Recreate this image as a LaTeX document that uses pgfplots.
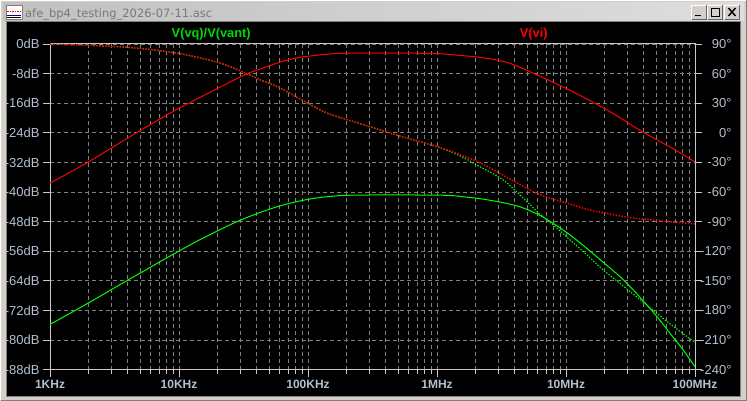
\documentclass[border=0pt]{standalone}
\usepackage{pgfplots}
\pgfplotsset{compat=1.18}
\usepackage{fontspec}
\setmainfont{Liberation Sans}
\newfontfamily\titlefont{DejaVu Sans}
\definecolor{winbg}{RGB}{212,208,200}
\definecolor{lbl}{RGB}{178,192,208}
\definecolor{gridc}{RGB}{128,128,128}
\definecolor{axc}{RGB}{200,200,200}
\definecolor{ltred}{RGB}{255,0,0}
\definecolor{ltgreen}{RGB}{0,255,0}
\definecolor{titlec}{RGB}{120,120,120}
\pgfplotsset{
  ltbase/.style={
    at={(50pt,31.4pt)}, anchor=south west, scale only axis,
    width=645pt, height=325.6pt,
    xmin=1e3, xmax=1e8,
    tick align=outside, major tick length=7pt, minor tick length=4pt,
    axis line style={draw=axc, line width=1pt},
    tick style={draw=axc, line width=0.8pt},
  },
  magline/.style={line width=1pt, smooth},
  phline/.style={line width=1.5pt, smooth, dash pattern=on 1.4pt off 1.5pt},
}
\begin{document}
\begin{tikzpicture}[x=1pt,y=1pt]
\useasboundingbox (0,0) rectangle (747,401);
% window frame
\fill[winbg] (0,0) rectangle (747,401);
\draw[white, line width=1pt] (0.5,0.5) -- (0.5,400.5) -- (746.5,400.5);
\draw[gray, line width=1pt] (0.5,0.5) -- (746.5,0.5) -- (746.5,400.5);
\shade[left color={rgb,255:red,192;green,192;blue,192}, right color={rgb,255:red,222;green,222;blue,222}] (3,380) rectangle (744,398);
% icon
\fill[white] (6,382) rectangle (22,396);
\draw[gray] (6,382) rectangle (22,396);
\draw[ltred, dash pattern=on 1.5pt off 1pt, line width=0.8pt] (7,390) -- (21,390);
\draw[blue!60!black, line width=1pt] (7,385) -- (21,385);
\draw[black, line width=0.6pt] (7,383.5) -- (21,383.5);
% title
\node[anchor=base west, inner sep=0pt, text=titlec, font=\titlefont\fontsize{11.5}{12}\selectfont] at (25,383.5) {afe\_bp4\_testing\_2026-07-11.asc};
% buttons
\foreach \xa/\xb in {691.5/706.5, 707.5/722.5, 724.5/739.5}{
  \fill[winbg] (\xa,382) rectangle (\xb,396);
  \draw[white] (\xa,382) -- (\xa,396) -- (\xb,396);
  \draw[black!60] (\xa,382) -- (\xb,382) -- (\xb,396);
}
\draw[black, line width=1.6pt] (695,385.5) -- (701,385.5);
\draw[black, line width=0.8pt] (711,385) rectangle (719,393);
\draw[black, line width=1.6pt] (711,392.5) -- (719,392.5);
\draw[black, line width=1.5pt] (728.5,385) -- (735.5,393) (728.5,393) -- (735.5,385);
% black plot pane
\fill[black] (7,5) rectangle (740,379);
\draw[gray] (6.5,4.5) rectangle (740.5,379.5);
% traces legend
\node[anchor=base, inner sep=0pt, text=ltgreen!85!black, font=\bfseries\fontsize{12.8}{13}\selectfont] at (211.2,363.5) {V(vq)/V(vant)};
\node[anchor=base, inner sep=0pt, text=ltred, font=\bfseries\fontsize{12.8}{13}\selectfont] at (533.7,363.5) {V(vi)};

\begin{axis}[ltbase, xmode=log,
  ymin=-88, ymax=0,
  xtick={1e3,1e4,1e5,1e6,1e7,1e8},
  xticklabels={1KHz,10KHz,100KHz,1MHz,10MHz,100MHz},
  minor xtick={2e3,3e3,4e3,5e3,6e3,7e3,8e3,9e3,2e4,3e4,4e4,5e4,6e4,7e4,8e4,9e4,2e5,3e5,4e5,5e5,6e5,7e5,8e5,9e5,2e6,3e6,4e6,5e6,6e6,7e6,8e6,9e6,2e7,3e7,4e7,5e7,6e7,7e7,8e7,9e7},
  ytick={-88,-80,-72,-64,-56,-48,-40,-32,-24,-16,-8,0},
  yticklabels={-88dB,-80dB,-72dB,-64dB,-56dB,-48dB,-40dB,-32dB,-24dB,-16dB,-8dB,0dB},
  xtick pos=bottom, ytick pos=left,
  xmajorgrids, xminorgrids, ymajorgrids,
  grid style={draw=gridc, dash pattern=on 4pt off 3pt, line width=0.8pt},
  minor grid style={draw=gridc, dash pattern=on 4pt off 3pt, line width=0.8pt},
  xticklabel style={font=\bfseries\fontsize{12}{12}\selectfont, text=lbl},
  yticklabel style={font=\fontsize{13}{13}\selectfont, text=lbl},
]
% V(vq)/V(vant) magnitude
\addplot[magline, ltgreen] coordinates {
(1000,-75.8) (1982,-70.0) (3926,-64.0) (6310,-59.9) (9594,-56.3) (14130,-53.1)
(20180,-50.4) (28180,-48.0) (39810,-45.9) (56230,-44.1) (79430,-42.7) (112200,-41.7)
(158500,-41.1) (223900,-40.85) (501200,-40.8) (1189000,-40.9) (1698000,-41.4)
(2153000,-41.8) (3162000,-42.8) (4395000,-44.0) (6026000,-46.0) (7980000,-48.5)
(10740000,-51.6) (14450000,-55.2) (19450000,-59.0) (26240000,-62.9) (33880000,-66.8)
(42270000,-70.5) (52480000,-74.3) (63970000,-78.2) (79430000,-82.3) (100000000,-87.2)
};
% V(vi) magnitude
\addplot[magline, ltred] coordinates {
(1000,-37.6) (1982,-31.9) (3926,-25.6) (9036,-18.2) (20180,-11.9) (32360,-8.3)
(46450,-6.3) (60670,-4.9) (86700,-3.6) (147900,-2.7) (199500,-2.5) (446700,-2.45)
(1000000,-2.6) (1507000,-3.1) (2153000,-3.6) (3573000,-5.1) (6457000,-8.9)
(11750000,-13.2) (21280000,-18.0) (38640000,-23.6) (69980000,-28.6) (100000000,-31.9)
};
\end{axis}

\begin{axis}[ltbase, xmode=log,
  ymin=-240, ymax=90,
  axis x line=none, axis y line*=right,
  ytick={-240,-210,-180,-150,-120,-90,-60,-30,0,30,60,90},
  yticklabels={-240°,-210°,-180°,-150°,-120°,-90°,-60°,-30°,0°,30°,60°,90°},
  yticklabel style={font=\fontsize{13}{13}\selectfont, text=lbl, anchor=east, xshift=33pt},
]
% V(vq)/V(vant) phase
\addplot[phline, line width=1.1pt, ltgreen] coordinates {
(1000,89.8) (1982,88.7) (3597,87) (5445,85) (7780,82.6) (11140,79.2) (15920,74.8)
(22750,69) (32510,60.6) (42460,53.8) (60670,45.4) (86700,34.3) (139600,20.1)
(201800,13.3) (407400,0.8) (582100,-5.3) (995400,-14) (1507000,-23.5) (2153000,-34.4)
(2818000,-42.5) (3428000,-50) (4395000,-63) (5420000,-74.5) (6281000,-82.5)
(7980000,-93.4) (10740000,-108.6) (14450000,-123.5) (19450000,-139)
(28180000,-156) (42270000,-174.5) (63100000,-193) (100000000,-212.5)
};
% V(vi) phase
\addplot[phline, ltred] coordinates {
(1000,89.8) (1982,88.7) (3597,87) (5445,85) (7780,82.6) (11140,79.2) (15920,74.8)
(22750,69) (32510,60.6) (42460,53.8) (60670,45.4) (86700,34.3) (139600,20.1)
(201800,13.3) (407400,0.8) (582100,-5.3) (995400,-13.7) (1507000,-22.2) (2089000,-29.6)
(2818000,-38.5) (3573000,-46) (4395000,-52.5) (5929000,-61.3) (7980000,-67.4)
(10740000,-72.2) (14450000,-77.5) (19450000,-81) (26240000,-84.3) (35320000,-86.7)
(47530000,-88.4) (63970000,-90.1) (100000000,-92.4)
};
\end{axis}
\end{tikzpicture}
\end{document}
